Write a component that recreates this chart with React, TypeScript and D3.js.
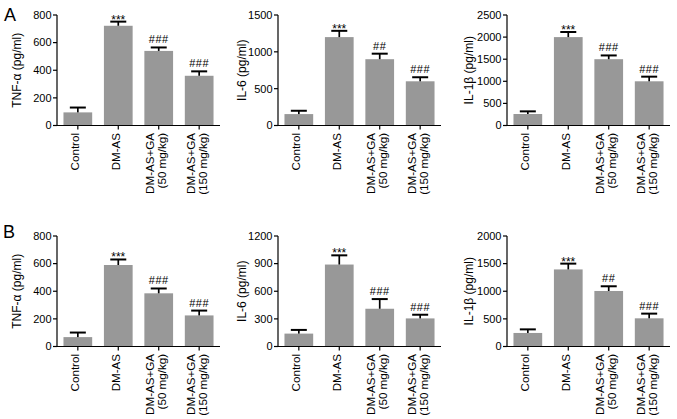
import React from "react";
import * as d3 from "d3";

const categories: string[][] = [
  ["Control"],
  ["DM-AS"],
  ["DM-AS+GA", "(50 mg/kg)"],
  ["DM-AS+GA", "(150 mg/kg)"],
];

// Panel A
const tnfA = [95, 722, 540, 360];
const tnfAErr = [35, 30, 25, 32];
const tnfATicks = [0, 200, 400, 600, 800];
const tnfASig = ["", "***", "###", "###"];

const il6A = [155, 1200, 900, 600];
const il6AErr = [45, 85, 75, 55];
const il6ATicks = [0, 500, 1000, 1500];
const il6ASig = ["", "***", "##", "###"];

const il1bA = [260, 2000, 1500, 1000];
const il1bAErr = [60, 115, 85, 105];
const il1bATicks = [0, 500, 1000, 1500, 2000, 2500];
const il1bASig = ["", "***", "###", "###"];

// Panel B
const tnfB = [68, 590, 385, 225];
const tnfBErr = [33, 40, 35, 35];
const tnfBTicks = [0, 200, 400, 600, 800];
const tnfBSig = ["", "***", "###", "###"];

const il6B = [140, 890, 410, 305];
const il6BErr = [40, 100, 105, 40];
const il6BTicks = [0, 300, 600, 900, 1200];
const il6BSig = ["", "***", "###", "###"];

const il1bB = [245, 1395, 1005, 510];
const il1bBErr = [65, 105, 85, 85];
const il1bBTicks = [0, 500, 1000, 1500, 2000];
const il1bBSig = ["", "***", "##", "###"];

const yLabels = ["TNF-α (pg/ml)", "IL-6 (pg/ml)", "IL-1β (pg/ml)"];
const panelLetters = ["A", "B"];

const FONT = "'Liberation Sans', Arial, Helvetica, sans-serif";

type PanelProps = {
  x0: number;
  yTop: number;
  yBot: number;
  values: number[];
  errors: number[];
  ticks: number[];
  sig: string[];
  label: string;
  labelOffset: number;
};

function Panel({ x0, yTop, yBot, values, errors, ticks, sig, label, labelOffset }: PanelProps) {
  const width = 163;
  const x = d3
    .scaleBand<number>()
    .domain(d3.range(categories.length))
    .range([x0, x0 + width])
    .paddingInner(0.29)
    .paddingOuter(0.16);
  const y = d3
    .scaleLinear()
    .domain([0, ticks[ticks.length - 1]])
    .range([yBot, yTop]);
  const bw = x.bandwidth();
  const capHalf = 8;
  return (
    <g fontFamily={FONT}>
      {values.map((v, i) => (
        <rect
          key={"b" + i}
          x={x(i)!}
          y={y(v)}
          width={bw}
          height={yBot - y(v)}
          fill="#989898"
        />
      ))}
      {values.map((v, i) => {
        const cx = x(i)! + bw / 2;
        const top = y(v + errors[i]);
        const star = sig[i].startsWith("*");
        return (
          <g key={"e" + i}>
            <line x1={cx} x2={cx} y1={y(v)} y2={top} stroke="#000" strokeWidth={1.7} />
            <line x1={cx - capHalf} x2={cx + capHalf} y1={top} y2={top} stroke="#000" strokeWidth={2} />
            {sig[i] ? (
              <text
                x={cx}
                y={star ? top + 2 : top - 4}
                textAnchor="middle"
                fontSize={star ? 12 : 11}
                letterSpacing={star ? 0 : 0.5}
                fill="#000"
              >
                {sig[i]}
              </text>
            ) : null}
          </g>
        );
      })}
      <line x1={x0} x2={x0} y1={yTop} y2={yBot} stroke="#000" strokeWidth={1.2} />
      {ticks.map((t) => (
        <g key={"yt" + t}>
          <line x1={x0 - 4} x2={x0} y1={y(t)} y2={y(t)} stroke="#000" strokeWidth={1.2} />
          <text x={x0 - 5.5} y={y(t)} dy="0.35em" textAnchor="end" fontSize={11} fill="#000">
            {t}
          </text>
        </g>
      ))}
      <line x1={x0} x2={x0 + width} y1={yBot} y2={yBot} stroke="#000" strokeWidth={1.2} />
      {categories.map((c, i) => {
        const cx = x(i)! + bw / 2;
        return (
          <g key={"xt" + i}>
            <line x1={cx} x2={cx} y1={yBot} y2={yBot + 4} stroke="#000" strokeWidth={1.2} />
            <g transform={`translate(${cx - 2.5},${yBot + 7.5}) rotate(-90)`}>
              {c.map((ln, j) => (
                <text
                  key={j}
                  x={0}
                  y={(j - (c.length - 1) / 2) * 12}
                  dy="0.35em"
                  textAnchor="end"
                  fontSize={11.6}
                  fill="#000"
                >
                  {ln}
                </text>
              ))}
            </g>
          </g>
        );
      })}
      <text
        transform={`translate(${x0 - labelOffset},${(yTop + yBot) / 2}) rotate(-90)`}
        textAnchor="middle"
        dy="0.35em"
        fontSize={12}
        fill="#000"
      >
        {label}
      </text>
    </g>
  );
}

export default function App() {
  const colX = [57, 278, 507];
  const labelOffsets = [40, 36, 38];
  const rows = [
    { yTop: 15, yBot: 125.5 },
    { yTop: 236, yBot: 346.5 },
  ];
  const rowData = [
    [
      { values: tnfA, errors: tnfAErr, ticks: tnfATicks, sig: tnfASig },
      { values: il6A, errors: il6AErr, ticks: il6ATicks, sig: il6ASig },
      { values: il1bA, errors: il1bAErr, ticks: il1bATicks, sig: il1bASig },
    ],
    [
      { values: tnfB, errors: tnfBErr, ticks: tnfBTicks, sig: tnfBSig },
      { values: il6B, errors: il6BErr, ticks: il6BTicks, sig: il6BSig },
      { values: il1bB, errors: il1bBErr, ticks: il1bBTicks, sig: il1bBSig },
    ],
  ];
  const letterPos = [
    { x: 4, y: 21 },
    { x: 3, y: 238 },
  ];
  return (
    <svg
      width={677}
      height={419}
      style={{ position: "absolute", left: 0, top: 0, background: "#fff" }}
    >
      <rect width={677} height={419} fill="#fff" />
      {rows.map((r, ri) => (
        <g key={ri}>
          <text x={letterPos[ri].x} y={letterPos[ri].y} fontSize={18} fontFamily={FONT} fill="#000">
            {panelLetters[ri]}
          </text>
          {rowData[ri].map((d, ci) => (
            <Panel
              key={ci}
              x0={colX[ci]}
              yTop={r.yTop}
              yBot={r.yBot}
              values={d.values}
              errors={d.errors}
              ticks={d.ticks}
              sig={d.sig}
              label={yLabels[ci]}
              labelOffset={labelOffsets[ci]}
            />
          ))}
        </g>
      ))}
    </svg>
  );
}
